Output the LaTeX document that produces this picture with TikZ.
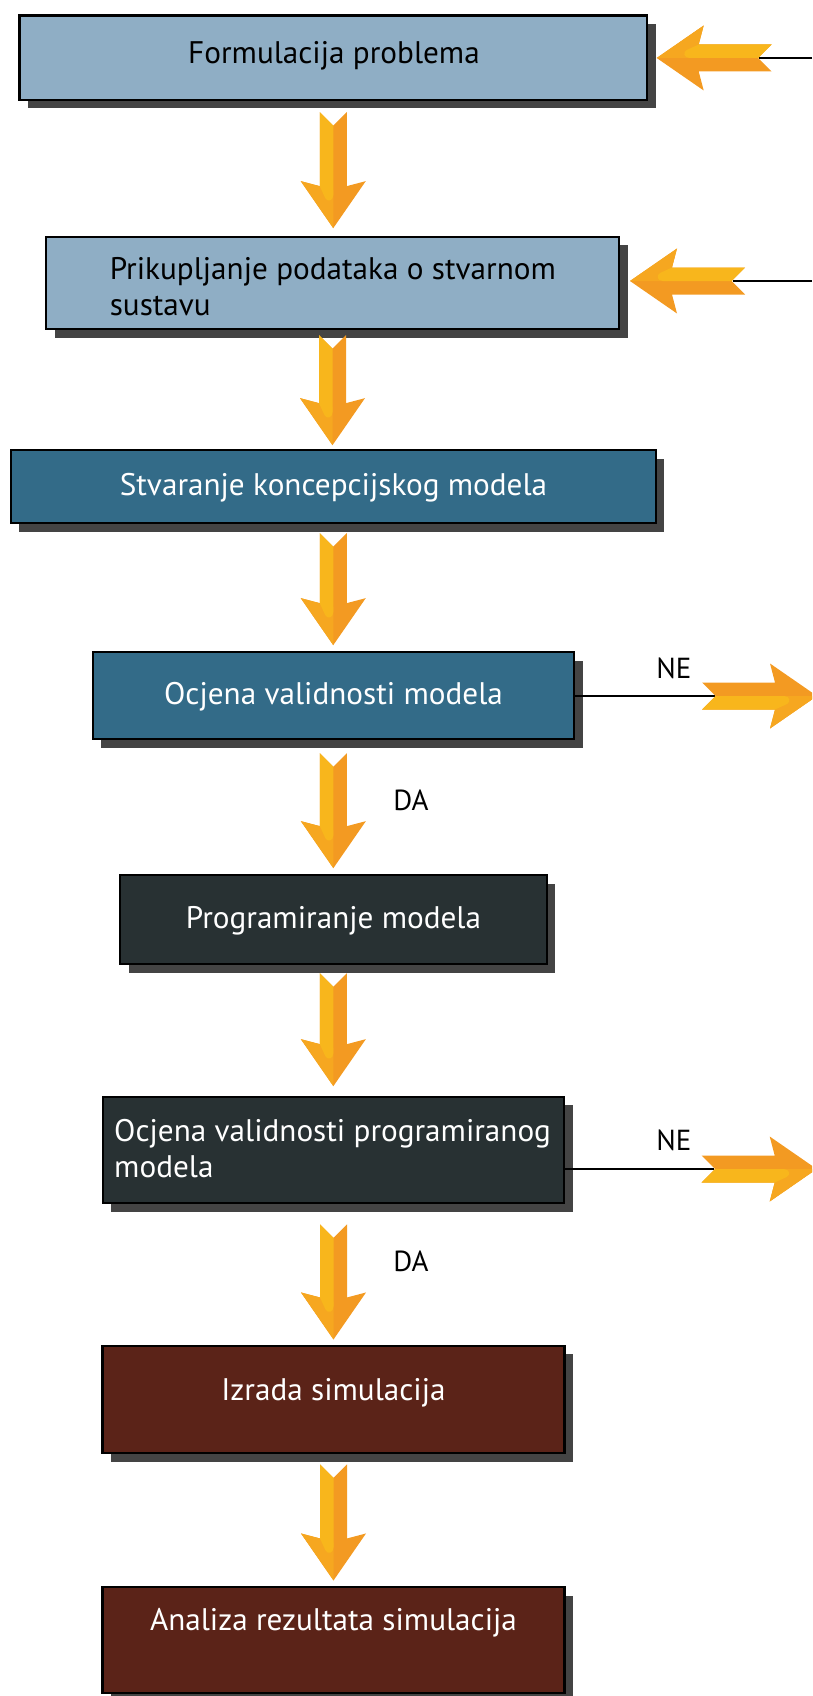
\documentclass[tikz,border=0pt]{standalone}
\usepackage{fontspec}
\setmainfont{PT Sans}
\usetikzlibrary{calc,shadows}
\definecolor{lblue}{HTML}{8FAEC5}
\definecolor{cteal}{HTML}{336B88}
\definecolor{cslate}{HTML}{283133}
\definecolor{cbrown}{HTML}{5B2318}
\definecolor{shadowc}{HTML}{444444}
\definecolor{arrY}{HTML}{F8B61C}
\definecolor{arrO}{HTML}{F39A22}
\definecolor{arrM}{HTML}{F6A720}
\tikzset{
  box/.style={draw=black, line width=2.3pt, inner sep=0pt,
    drop shadow={shadow xshift=8.5pt, shadow yshift=-8.5pt, fill=shadowc, opacity=1}},
  txt/.style={inner sep=0pt, font=\fontsize{31.2}{36.7}\selectfont},
  lbl/.style={inner sep=0pt, font=\fontsize{29}{34}\selectfont, text=black},
  conn/.style={draw=black, line width=2.3pt},
  adown/.style={x={(1pt,0pt)}, y={(0pt,-1pt)}},
  aleft/.style={x={(0pt,-1pt)}, y={(-1pt,0pt)}},
  aright/.style={x={(0pt,1pt)}, y={(1pt,0pt)}},
}
\newcommand\blockarrow[3]{%
  \begin{scope}[shift={#2},#1]
    \fill[arrO] (-13.5,0) -- (0,13.5) -- (13.5,0) -- (13.5,#3-42) -- (32.5,#3-47) -- (0,#3)
      -- (-32.5,#3-47) -- (-13.5,#3-42) -- cycle;
    \fill[arrM] (-32.5,#3-47) -- (-13.5,#3-42) -- (0,#3-38) -- (0,#3) -- cycle;
    \fill[arrY] (-13.5,0) -- (0,13.5) -- (0,#3-33) .. controls (0,#3-27) and (-6,#3-26) .. (-8,#3-30)
      -- (-13.5,#3-42) -- cycle;
  \end{scope}}
\begin{document}
\begin{tikzpicture}[x=1pt,y=-1pt]
\useasboundingbox (0,0) rectangle (812,1696);
\clip (0,0) rectangle (812,1696);
% boxes
\node[box, fill=lblue, minimum width=627.5pt, minimum height=84.5pt] (b1) at (333.25,57.75) {};
\node[box, fill=lblue, minimum width=573pt, minimum height=92.3pt] (b2) at (332.5,282.85) {};
\node[box, fill=cteal, minimum width=645pt, minimum height=73pt] (b3) at (333.25,486.5) {};
\node[box, fill=cteal, minimum width=481.3pt, minimum height=87pt] (b4) at (333.35,695.5) {};
\node[box, fill=cslate, minimum width=426.7pt, minimum height=89pt] (b5) at (333.35,919.5) {};
\node[box, fill=cslate, minimum width=461.6pt, minimum height=106.6pt] (b6) at (333.5,1150) {};
\node[box, fill=cbrown, minimum width=462pt, minimum height=107.6pt] (b7) at (333.5,1399.5) {};
\node[box, fill=cbrown, minimum width=462pt, minimum height=106pt] (b8) at (333.5,1640) {};
% texts
\node[txt, anchor=base, text=black] (t1) at (334,63.3) {Formulacija problema};
\node[txt, anchor=base west, align=left, text=black] (t2) at (109.6,315.7) {Prikupljanje podataka o stvarnom\\sustavu};
\node[txt, anchor=base, text=white] (t3) at (333.5,495) {Stvaranje koncepcijskog modela};
\node[txt, anchor=base, text=white] (t4) at (333.5,704) {Ocjena validnosti modela};
\node[txt, anchor=base, text=white] (t5) at (333.5,928) {Programiranje modela};
\node[txt, anchor=base west, align=left, text=white] (t6) at (114,1177.7) {Ocjena validnosti programiranog\\modela};
\node[txt, anchor=base, text=white] (t7) at (333.5,1400) {Izrada simulacija};
\node[txt, anchor=base, text=white] (t8) at (333.5,1630) {Analiza rezultata simulacija};
% down arrows
\blockarrow{adown}{($(b1.south)+(0,11)$)}{116}
\blockarrow{adown}{($(b2.south)+(0,5)$)}{110}
\blockarrow{adown}{($(b3.south)+(0,9)$)}{112}
\blockarrow{adown}{($(b4.south)+(0,13)$)}{115}
\blockarrow{adown}{($(b5.south)+(0,8)$)}{113}
\blockarrow{adown}{($(b6.south)+(0,20)$)}{115}
\blockarrow{adown}{($(b7.south)+(0,10)$)}{116}
% DA labels
\node[lbl, anchor=base] (da1) at (411,810) {DA};
\node[lbl, anchor=base] (da2) at (411,1271.7) {DA};
% feedback arrows into top boxes
\coordinate (e1) at (812,58);
\coordinate (n1) at (759,58);
\draw[conn] (e1) -- (n1);
\blockarrow{aleft}{(771.7,58)}{115}
\coordinate (e2) at (812,281);
\coordinate (n2) at (733,281);
\draw[conn] (e2) -- (n2);
\blockarrow{aleft}{(745,281)}{115}
% NE branches
\coordinate (ne1) at (715,696);
\draw[conn] (b4.east |- ne1) -- (ne1);
\blockarrow{aright}{(702,696)}{115}
\node[lbl, anchor=base] (nel1) at (674,678.3) {NE};
\coordinate (ne2) at (714,1169);
\draw[conn] (b6.east |- ne2) -- (ne2);
\blockarrow{aright}{(701.7,1169)}{115}
\node[lbl, anchor=base] (nel2) at (674,1150) {NE};
\end{tikzpicture}
\end{document}
